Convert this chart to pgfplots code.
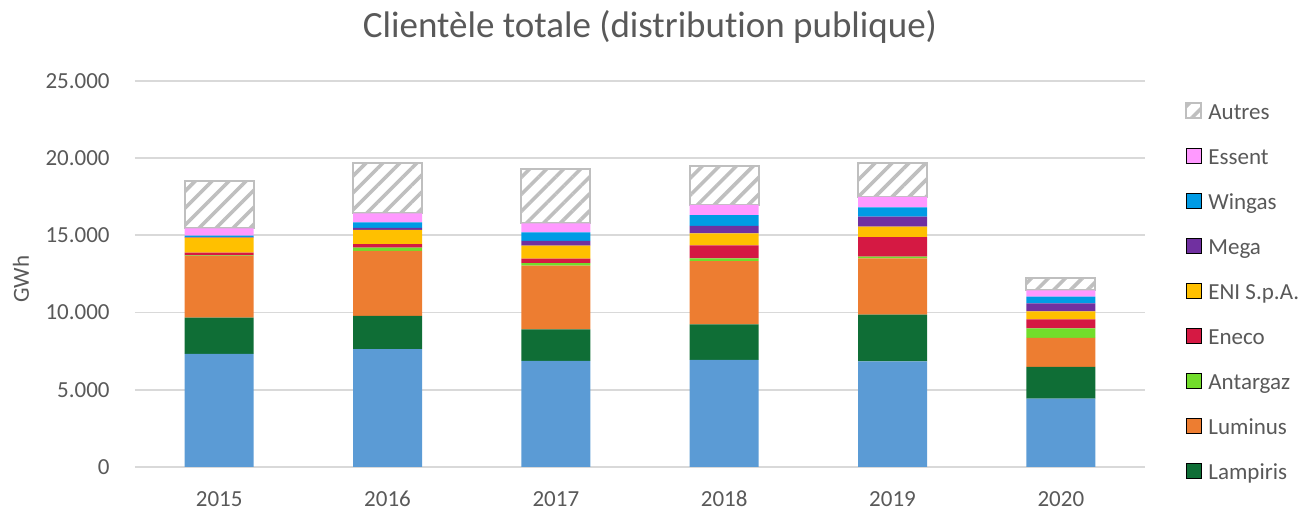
\documentclass[border=0pt]{standalone}
\usepackage{fontspec}
\setmainfont{Carlito}[Ligatures={NoCommon}]
\usepackage{pgfplots}
\usepackage{pgfplotstable}
\pgfplotsset{compat=1.18}
\usetikzlibrary{patterns.meta}

\definecolor{cBlue}{HTML}{5B9BD5}
\definecolor{cLampiris}{HTML}{0F6E36}
\definecolor{cLuminus}{HTML}{ED7D31}
\definecolor{cAntargaz}{HTML}{72DD2B}
\definecolor{cEneco}{HTML}{D51943}
\definecolor{cEni}{HTML}{FFC000}
\definecolor{cMega}{HTML}{7030A0}
\definecolor{cWingas}{HTML}{009BE5}
\definecolor{cEssent}{HTML}{FF99FF}
\definecolor{cAutres}{HTML}{BFBFBF}
\definecolor{txt}{HTML}{595959}
\definecolor{gridc}{HTML}{D9D9D9}

% GWh par annee et par fournisseur
\pgfplotstableread{
x   autre lampiris luminus antargaz eneco eni  mega wingas essent autres
0   7320  2350     4000    30       180   970  30   100    480    3060
1   7640  2140     4210    210      240   910  130  370    580    3260
2   6870  2050     4120    170      280   840  310  560    580    3540
3   6930  2310     4100    170      850   770  480  710    650    2520
4   6840  3030     3640    110      1260  680  650  610    670    2220
5   4420  2060     1890    610      580   520  520  430    410    820
}\data

\begin{document}
\begin{tikzpicture}
\useasboundingbox (-67.5pt,-22.5pt) rectangle (585pt,233.5pt);
\begin{axis}[
    scale only axis,
    width=505pt, height=193pt,
    ybar stacked,
    bar width=34.5pt,
    xmin=-0.5, xmax=5.5,
    ymin=0, ymax=25000,
    scaled y ticks=false,
    xtick={0,...,5},
    xticklabels={2015,2016,2017,2018,2019,2020},
    ytick={0,5000,10000,15000,20000,25000},
    yticklabels={0,5.000,10.000,15.000,20.000,25.000},
    axis line style={draw=none},
    major tick length=0pt,
    ymajorgrids,
    major grid style={gridc, line width=0.9pt},
    font=\fontsize{11.5}{13.8}\selectfont,
    tick label style={text=txt, inner sep=0pt},
    xticklabel style={anchor=base, yshift=-20pt},
    yticklabel style={anchor=east, xshift=-12.5pt},
    ylabel={GWh},
    ylabel style={at={(axis description cs:-0.1129,0.487)}, anchor=center, text=txt},
    title={Clientèle totale (distribution publique)},
    title style={at={(axis description cs:0.51,1.082)}, anchor=base, text=txt,
        font=\fontsize{18.5}{22}\selectfont},
    reverse legend,
    legend cell align=left,
    legend style={at={(1.0396,0.978)}, anchor=north west, draw=none,
        inner sep=0pt, column sep=3pt, row sep=0pt,
        nodes={text=txt, inner xsep=0pt, inner ysep=7.5pt, text height=7.5pt, text depth=0pt}},
    legend image code/.code={\draw[#1] (0pt,-3pt) rectangle (7.5pt,4.5pt);},
]
\addplot[fill=cBlue, draw=none, forget plot] table[x=x, y=autre] {\data};
\addplot[fill=cLampiris, draw=none] table[x=x, y=lampiris] {\data};
\addlegendentry{Lampiris}
\addplot[fill=cLuminus, draw=none] table[x=x, y=luminus] {\data};
\addlegendentry{Luminus}
\addplot[fill=cAntargaz, draw=none] table[x=x, y=antargaz] {\data};
\addlegendentry{Antargaz}
\addplot[fill=cEneco, draw=none] table[x=x, y=eneco] {\data};
\addlegendentry{Eneco}
\addplot[fill=cEni, draw=none] table[x=x, y=eni] {\data};
\addlegendentry{ENI S.p.A.}
\addplot[fill=cMega, draw=none] table[x=x, y=mega] {\data};
\addlegendentry{Mega}
\addplot[fill=cWingas, draw=none] table[x=x, y=wingas] {\data};
\addlegendentry{Wingas}
\addplot[fill=cEssent, draw=none] table[x=x, y=essent] {\data};
\addlegendentry{Essent}
\addplot[draw=cAutres, line width=1pt, fill=white,
    postaction={pattern={Lines[angle=45,distance=6pt,line width=1.8pt]}, pattern color=cAutres}]
    table[x=x, y=autres] {\data};
\addlegendentry{Autres}
\end{axis}
\end{tikzpicture}
\end{document}
